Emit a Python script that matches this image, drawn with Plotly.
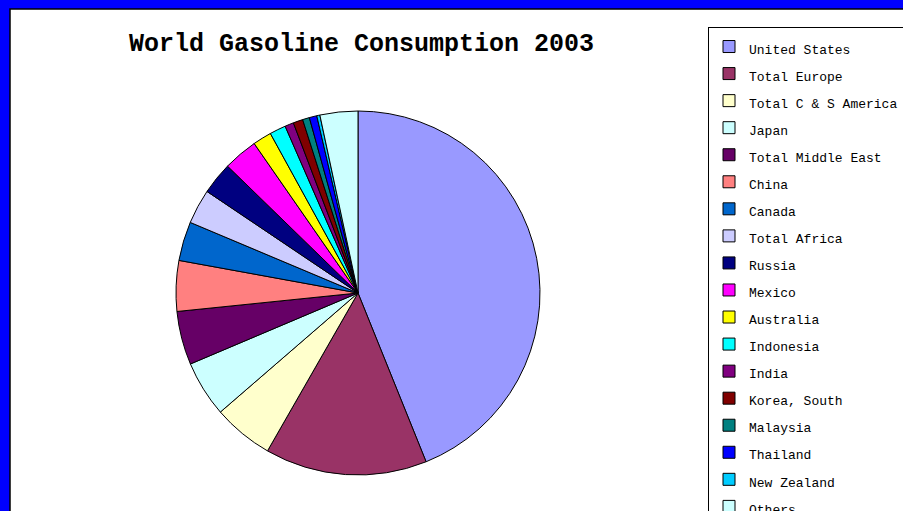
import plotly.graph_objects as go

W, H = 903, 511

regions = [
    "United States", "Total Europe", "Total C & S America", "Japan",
    "Total Middle East", "China", "Canada", "Total Africa", "Russia",
    "Mexico", "Australia", "Indonesia", "India", "Korea, South",
    "Malaysia", "Thailand", "New Zealand", "Others",
]
# thousand barrels per day
consumption = [
    9000, 2950, 1100, 1020, 975, 920, 712, 632, 586,
    627, 342, 295, 160, 176, 125, 137, 57, 689,
]
colors = [
    "#9999FF", "#993366", "#FFFFCC", "#CCFFFF", "#660066", "#FF8080",
    "#0066CC", "#CCCCFF", "#000080", "#FF00FF", "#FFFF00", "#00FFFF",
    "#800080", "#800000", "#008080", "#0000FF", "#00CCFF", "#CCFFFF",
]
title_text = "World Gasoline Consumption 2003"

FONT = "Liberation Mono"

fig = go.Figure(
    go.Pie(
        labels=[f'<span style="font-size:13px">{r}</span>' for r in regions],
        values=consumption,
        marker=dict(colors=colors, line=dict(color="black", width=1)),
        sort=False,
        direction="clockwise",
        rotation=0,
        textinfo="none",
        hoverinfo="label+value+percent",
        domain=dict(x=[176 / W, 540 / W], y=[1 - 475 / H, 1 - 111 / H]),
    )
)

fig.update_layout(
    width=W,
    height=H,
    margin=dict(l=0, r=0, t=0, b=0, autoexpand=False),
    paper_bgcolor="#0000FF",
    plot_bgcolor="white",
    font=dict(family=FONT, color="black"),
    showlegend=True,
    legend=dict(
        x=708 / W,
        y=1 - 27 / H,
        xanchor="left",
        yanchor="top",
        bgcolor="white",
        bordercolor="black",
        borderwidth=1,
        font=dict(family=FONT, size=18.5, color="black"),
        itemwidth=30,
    ),
    shapes=[
        dict(
            type="rect", xref="paper", yref="paper",
            x0=10 / W, x1=1.2, y0=-0.2, y1=1 - 9 / H,
            fillcolor="white", line=dict(color="black", width=1.5),
            layer="below",
        )
    ],
    annotations=[
        dict(
            text=f"<b>{title_text}</b>",
            xref="paper", yref="paper",
            x=361 / W, y=1 - 45 / H,
            xanchor="center", yanchor="middle",
            showarrow=False,
            font=dict(family=FONT, size=25, color="black"),
        )
    ],
)

fig.write_html(
    "out.html",
    config={"displayModeBar": False},
    post_script="document.body.style.margin='0px';document.body.style.padding='0px';",
)
